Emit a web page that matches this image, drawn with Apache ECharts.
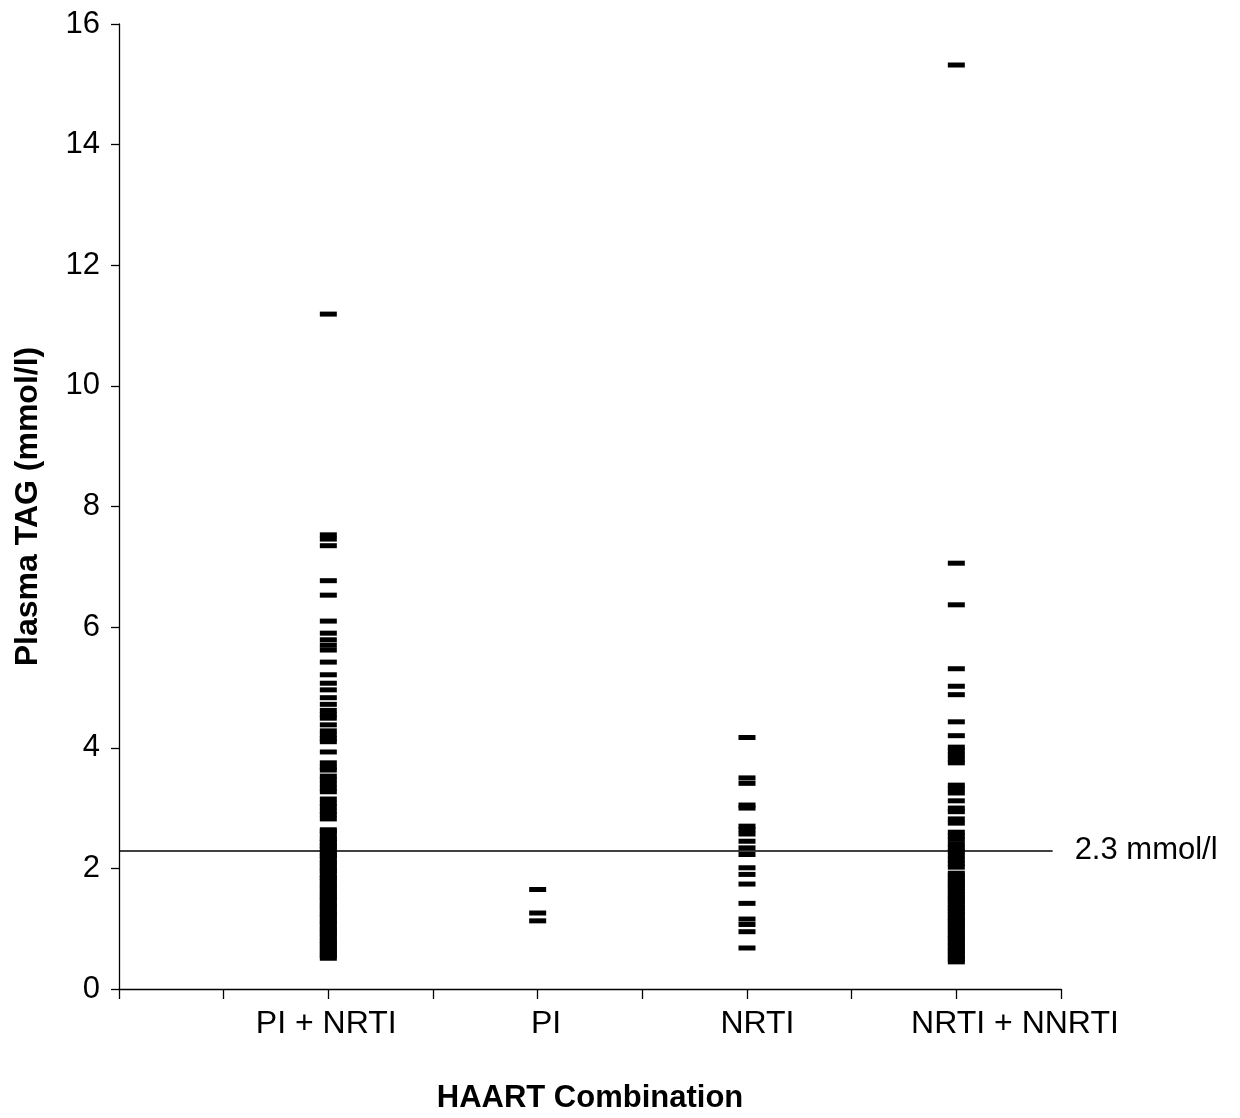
<!DOCTYPE html>
<html>
<head>
<meta charset="utf-8">
<title>Plasma TAG by HAART combination</title>
<script src="https://cdn.jsdelivr.net/npm/echarts@6/dist/echarts.min.js"></script>
<style>
  html, body { margin: 0; padding: 0; background: #fff; }
  #chart { width: 1240px; height: 1118px; }
</style>
</head>
<body>
<div id="chart"></div>
<script>
// Treatment groups along the horizontal axis
const categories = ['PI + NRTI', 'PI', 'NRTI', 'NRTI + NNRTI'];

// Plasma TAG (mmol/l), one entry per patient
const piNrti = [
  11.19, 7.53, 7.46, 7.35, 6.77, 6.53, 6.10, 5.90, 5.79, 5.70, 5.62, 5.42,
  5.21, 5.07, 4.96, 4.83, 4.72, 4.62, 4.55, 4.49, 4.38, 4.28, 4.21, 4.15,
  4.10, 3.93, 3.75, 3.68, 3.63, 3.53, 3.47, 3.40, 3.33, 3.27, 3.15, 3.08,
  3.02, 2.95, 2.89, 2.82, 2.64, 2.61, 2.56, 2.50, 2.47, 2.43, 2.38, 2.36,
  2.31, 2.27, 2.22, 2.20, 2.15, 2.10, 2.07, 2.02, 1.98, 1.95, 1.90, 1.85,
  1.83, 1.78, 1.74, 1.70, 1.66, 1.61, 1.58, 1.53, 1.50, 1.46, 1.41, 1.38,
  1.34, 1.30, 1.25, 1.22, 1.18, 1.13, 1.10, 1.06, 1.01, 0.98, 0.94, 0.90,
  0.86, 0.81, 0.78, 0.74, 0.70, 0.66, 0.62, 0.58, 0.55, 0.51
];
const piOnly = [1.65, 1.26, 1.13];
const nrtiOnly = [
  4.17, 3.50, 3.41, 3.05, 3.00, 2.70, 2.64, 2.57, 2.45, 2.34, 2.23, 2.01,
  1.90, 1.74, 1.42, 1.16, 1.07, 0.95, 0.68
];
const nrtiNnrti = [
  15.32, 7.06, 6.37, 5.31, 5.02, 4.88, 4.43, 4.20, 4.01, 3.95, 3.88, 3.81,
  3.75, 3.38, 3.32, 3.25, 3.12, 3.00, 2.94, 2.82, 2.75, 2.60, 2.54, 2.48,
  2.40, 2.34, 2.28, 2.21, 2.14, 2.08, 2.02, 1.92, 1.88, 1.83, 1.79, 1.74,
  1.71, 1.66, 1.62, 1.57, 1.53, 1.49, 1.45, 1.40, 1.36, 1.33, 1.28, 1.24,
  1.19, 1.15, 1.12, 1.07, 1.03, 0.99, 0.95, 0.90, 0.86, 0.83, 0.78, 0.74,
  0.70, 0.65, 0.62, 0.57, 0.53, 0.49, 0.45
];

// Hypertriglyceridaemia threshold
const thresholdValue = 2.3;
const thresholdLabel = '2.3 mmol/l';

// Axis texts
const yTitle = 'Plasma TAG (mmol/l)';
const xTitle = 'HAART Combination';

// Layout: each group sits on an even slot of a 0..9 horizontal scale
const groupSlots = [2, 4, 6, 8];
const labelSlots = [1.98, 4.08, 6.10, 8.56];

const groups = [piNrti, piOnly, nrtiOnly, nrtiNnrti];
const points = [];
groups.forEach((vals, gi) => {
  vals.forEach(v => points.push([groupSlots[gi], v]));
});

const FONT = '"Liberation Sans", Arial, sans-serif';
const INK = '#000';

const chart = echarts.init(document.getElementById('chart'), null, { renderer: 'canvas' });

chart.setOption({
  backgroundColor: '#fff',
  animation: false,
  grid: { left: 119, right: 179, top: 24, bottom: 129, outerBoundsMode: 'none', containLabel: false },
  xAxis: {
    type: 'value',
    min: 0,
    max: 9,
    interval: 1,
    splitLine: { show: false },
    axisLine: { lineStyle: { color: INK, width: 1.3 } },
    axisTick: { show: true, length: 10, lineStyle: { color: INK, width: 1.3 } },
    axisLabel: {
      customValues: labelSlots,
      formatter: v => {
        const i = labelSlots.indexOf(v);
        return i >= 0 ? categories[i] : '';
      },
      color: INK,
      fontFamily: FONT,
      fontSize: 32,
      margin: 19
    },
    name: xTitle,
    nameLocation: 'middle',
    nameGap: 94,
    nameTextStyle: { color: INK, fontFamily: FONT, fontSize: 31, fontWeight: 'bold' }
  },
  yAxis: {
    type: 'value',
    min: 0,
    max: 16,
    interval: 2,
    splitLine: { show: false },
    axisLine: { show: true, lineStyle: { color: INK, width: 1.3 } },
    axisTick: { show: true, length: 8, lineStyle: { color: INK, width: 1.3 } },
    axisLabel: { color: INK, fontFamily: FONT, fontSize: 31, margin: 19 },
    name: yTitle,
    nameLocation: 'middle',
    nameGap: 75,
    nameTextStyle: { color: INK, fontFamily: FONT, fontSize: 32, fontWeight: 'bold' }
  },
  series: [{
    type: 'scatter',
    data: points,
    symbol: 'rect',
    symbolSize: [17, 5],
    itemStyle: { color: '#000', opacity: 1 },
    markLine: {
      silent: true,
      symbol: ['none', 'none'],
      lineStyle: { color: INK, width: 1.5, type: 'solid' },
      label: {
        show: true,
        position: 'end',
        distance: 22,
        formatter: thresholdLabel,
        color: INK,
        fontFamily: FONT,
        fontSize: 31
      },
      data: [[
        { coord: [0, thresholdValue] },
        { coord: [8.92, thresholdValue] }
      ]]
    }
  }]
});
</script>
</body>
</html>
